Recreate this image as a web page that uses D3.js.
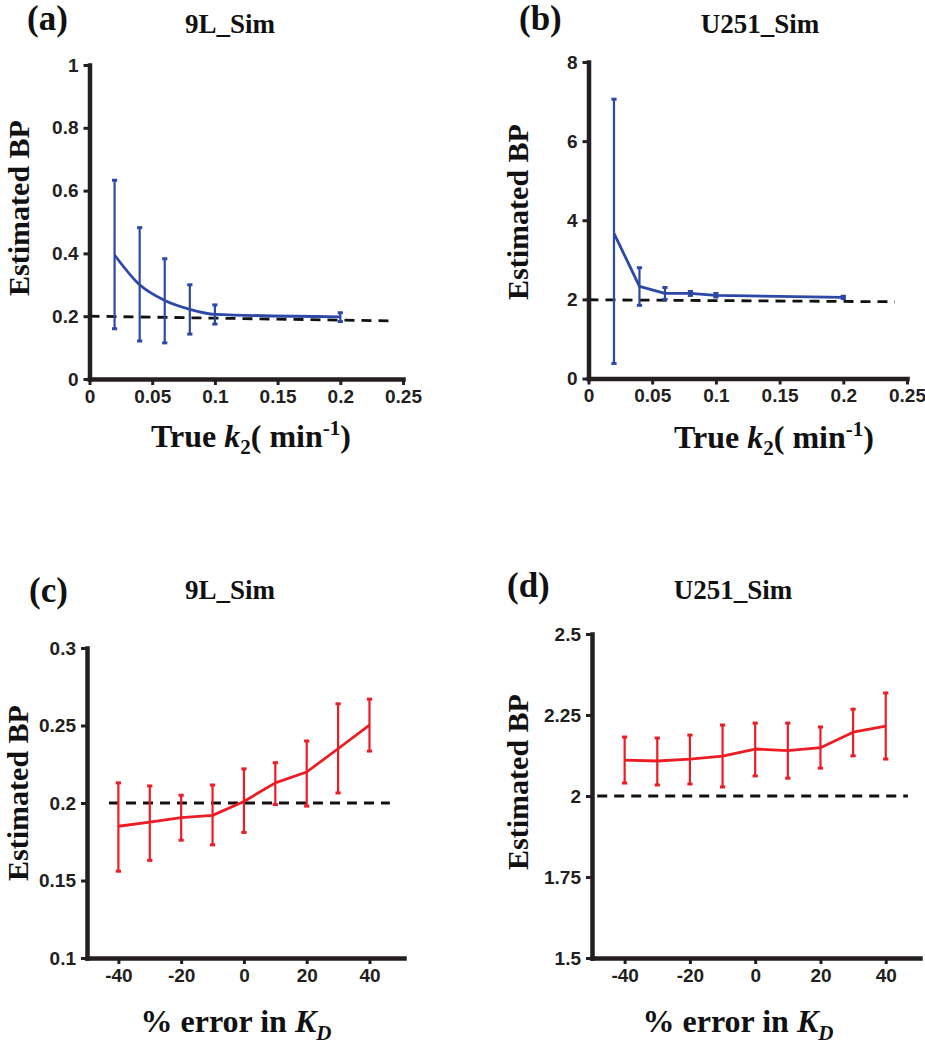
<!DOCTYPE html>
<html>
<head>
<meta charset="utf-8">
<script src="https://cdn.jsdelivr.net/npm/d3@7"></script>
<style>
  html, body { margin: 0; padding: 0; background: #fff; }
  svg { display: block; }
  .tick text { font-family: "Liberation Sans", Arial, sans-serif; font-weight: bold; font-size: 19px; fill: #231f20; }
  .serif { font-family: "Liberation Serif", "Times New Roman", serif; font-weight: bold; fill: #111; }
</style>
</head>
<body>
<svg id="chart" width="925" height="1050"></svg>
<script>
// ---------- DATA ----------
// Panels (a) and (b): true k2 (min^-1)
const k2Values = [0.02, 0.04, 0.06, 0.08, 0.1, 0.2];
const a_mean  = [0.395, 0.300, 0.250, 0.222, 0.206, 0.198];
const a_upper = [0.633, 0.482, 0.383, 0.300, 0.236, 0.211];
const a_lower = [0.160, 0.121, 0.115, 0.143, 0.175, 0.183];

const b_mean  = [3.67, 2.33, 2.15, 2.15, 2.10, 2.05];
const b_upper = [7.06, 2.80, 2.30, 2.20, 2.15, 2.08];
const b_lower = [0.38, 1.85, 2.00, 2.10, 2.06, 2.02];

// Panels (c) and (d): % error in KD
const kdError = [-40, -30, -20, -10, 0, 10, 20, 30, 40];
const c_mean  = [0.185, 0.1877, 0.1905, 0.192, 0.201, 0.213, 0.220, 0.235, 0.2503];
const c_upper = [0.213, 0.211, 0.205, 0.2116, 0.222, 0.226, 0.240, 0.264, 0.267];
const c_lower = [0.156, 0.163, 0.176, 0.173, 0.181, 0.199, 0.198, 0.2065, 0.2335];

const d_mean  = [2.111, 2.108, 2.114, 2.123, 2.145, 2.140, 2.149, 2.197, 2.216];
const d_upper = [2.182, 2.179, 2.188, 2.219, 2.225, 2.225, 2.213, 2.268, 2.318];
const d_lower = [2.040, 2.034, 2.037, 2.028, 2.062, 2.055, 2.086, 2.124, 2.114];

// Reference (true BP) dashed lines: [x0, y0, x1, y1]
const a_ref = [0.0, 0.200, 0.242, 0.185];
const b_ref = [0.0, 1.99, 0.2405, 1.94];
const c_ref = [-43, 0.2, 46.5, 0.2];
const d_ref = [-48.4, 2.0, 46.8, 2.0];

// Tick values and labels
const a_xTicks = [0, 0.05, 0.1, 0.15, 0.2, 0.25];
const a_xLabels = ["0", "0.05", "0.1", "0.15", "0.2", "0.25"];
const a_yTicks = [0, 0.2, 0.4, 0.6, 0.8, 1];
const a_yLabels = ["0", "0.2", "0.4", "0.6", "0.8", "1"];
const b_yTicks = [0, 2, 4, 6, 8];
const b_yLabels = ["0", "2", "4", "6", "8"];
const c_xTicks = [-40, -20, 0, 20, 40];
const c_xLabels = ["-40", "-20", "0", "20", "40"];
const c_yTicks = [0.1, 0.15, 0.2, 0.25, 0.3];
const c_yLabels = ["0.1", "0.15", "0.2", "0.25", "0.3"];
const d_yTicks = [1.5, 1.75, 2, 2.25, 2.5];
const d_yLabels = ["1.5", "1.75", "2", "2.25", "2.5"];

const panelLetters = ["(a)", "(b)", "(c)", "(d)"];
const panelTitles = ["9L_Sim", "U251_Sim", "9L_Sim", "U251_Sim"];

const BLUE = "#2d48a6";
const RED = "#ec1c24";
const INK = "#231f20";

// ---------- DRAW ----------
const svg = d3.select("#chart");

function panel(cfg) {
  const g = svg.append("g");
  const x = d3.scaleLinear().domain(cfg.xDomain).range(cfg.xRange);
  const y = d3.scaleLinear().domain(cfg.yDomain).range(cfg.yRange);

  // reference dashed line
  g.append("line")
    .attr("x1", x(cfg.ref[0])).attr("y1", y(cfg.ref[1]))
    .attr("x2", x(cfg.ref[2])).attr("y2", y(cfg.ref[3]))
    .attr("stroke", "#111").attr("stroke-width", 2.8)
    .attr("stroke-dasharray", "10,7");

  // axes
  const xAxis = d3.axisBottom(x).tickValues(cfg.xTicks)
    .tickFormat((d, i) => cfg.xLabels[i]).tickSize(6).tickSizeOuter(0).tickPadding(4.5);
  const yAxis = d3.axisLeft(y).tickValues(cfg.yTicks)
    .tickFormat((d, i) => cfg.yLabels[i]).tickSize(6).tickSizeOuter(0).tickPadding(5);

  const gx = g.append("g").attr("transform", `translate(0,${cfg.yRange[0]})`).call(xAxis);
  const gy = g.append("g").attr("transform", `translate(${cfg.xRange[0]},0)`).call(yAxis);
  [gx, gy].forEach(a => {
    a.select(".domain").attr("stroke", INK).attr("stroke-width", 4.5).attr("stroke-linecap", "square");
    a.selectAll(".tick line").attr("stroke", INK).attr("stroke-width", 3);
  });

  // error bars
  const capW = 2.6;
  const eb = g.append("g").attr("stroke", cfg.color).attr("stroke-width", 2.2);
  cfg.xs.forEach((xv, i) => {
    const cx = x(xv);
    eb.append("line").attr("x1", cx).attr("x2", cx).attr("y1", y(cfg.lower[i])).attr("y2", y(cfg.upper[i]));
    eb.append("line").attr("x1", cx - capW).attr("x2", cx + capW).attr("y1", y(cfg.lower[i])).attr("y2", y(cfg.lower[i])).attr("stroke-width", 3);
    eb.append("line").attr("x1", cx - capW).attr("x2", cx + capW).attr("y1", y(cfg.upper[i])).attr("y2", y(cfg.upper[i])).attr("stroke-width", 3);
  });

  // mean line
  const line = d3.line().x((d, i) => x(cfg.xs[i])).y(d => y(d)).curve(cfg.curve);
  g.append("path").datum(cfg.mean)
    .attr("d", line).attr("fill", "none")
    .attr("stroke", cfg.color).attr("stroke-width", 2.8).attr("stroke-linejoin", "round");

  // panel letter & title
  g.append("text").attr("class", "serif").attr("x", cfg.letterPos[0]).attr("y", cfg.letterPos[1])
    .attr("font-size", 35).text(cfg.letter);
  g.append("text").attr("class", "serif").attr("x", cfg.titlePos[0]).attr("y", cfg.titlePos[1])
    .attr("text-anchor", "middle").attr("font-size", 27).text(cfg.title);

  // y label
  g.append("text").attr("class", "serif")
    .attr("transform", `translate(${cfg.yLabelPos[0]},${cfg.yLabelPos[1]}) rotate(-90)`)
    .attr("text-anchor", "middle").attr("font-size", 30).text("Estimated BP");

  // x label
  const xl = g.append("text").attr("class", "serif")
    .attr("x", cfg.xLabelPos[0]).attr("y", cfg.xLabelPos[1])
    .attr("text-anchor", "middle").attr("font-size", 32);
  cfg.xLabel(xl);
}

function k2Label(t) {
  t.append("tspan").text("True ");
  t.append("tspan").attr("font-style", "italic").text("k");
  t.append("tspan").attr("font-size", 21).attr("dy", 7).text("2");
  t.append("tspan").attr("dy", -7).text("( min");
  t.append("tspan").attr("font-size", 21).attr("dy", -12).text("-1");
  t.append("tspan").attr("dy", 12).text(")");
}
function kdLabel(t) {
  t.append("tspan").text("% error in ");
  t.append("tspan").attr("font-style", "italic").text("K");
  t.append("tspan").attr("font-style", "italic").attr("font-size", 21).attr("dy", 8).text("D");
}

panel({
  xDomain: [0, 0.25], xRange: [89.5, 403], yDomain: [0, 1], yRange: [379, 65],
  xTicks: a_xTicks, xLabels: a_xLabels, yTicks: a_yTicks, yLabels: a_yLabels,
  xs: k2Values, mean: a_mean, upper: a_upper, lower: a_lower, ref: a_ref,
  color: BLUE, curve: d3.curveMonotoneX,
  letter: panelLetters[0], letterPos: [27, 30], title: panelTitles[0], titlePos: [230, 33],
  yLabelPos: [29, 208], xLabelPos: [251, 447], xLabel: k2Label
});
panel({
  xDomain: [0, 0.25], xRange: [588.5, 907], yDomain: [0, 8], yRange: [378.5, 62],
  xTicks: a_xTicks, xLabels: a_xLabels, yTicks: b_yTicks, yLabels: b_yLabels,
  xs: k2Values, mean: b_mean, upper: b_upper, lower: b_lower, ref: b_ref,
  color: BLUE, curve: d3.curveLinear,
  letter: panelLetters[1], letterPos: [519, 30], title: panelTitles[1], titlePos: [760, 33],
  yLabelPos: [528, 212], xLabelPos: [774, 448], xLabel: k2Label
});
panel({
  xDomain: [-50, 51], xRange: [87, 404], yDomain: [0.1, 0.3], yRange: [958, 648],
  xTicks: c_xTicks, xLabels: c_xLabels, yTicks: c_yTicks, yLabels: c_yLabels,
  xs: kdError, mean: c_mean, upper: c_upper, lower: c_lower, ref: c_ref,
  color: RED, curve: d3.curveLinear,
  letter: panelLetters[2], letterPos: [29, 602], title: panelTitles[2], titlePos: [230, 599],
  yLabelPos: [28, 793], xLabelPos: [236, 1032], xLabel: kdLabel
});
panel({
  xDomain: [-50, 50.5], xRange: [592, 920], yDomain: [1.5, 2.5], yRange: [958, 634],
  xTicks: c_xTicks, xLabels: c_xLabels, yTicks: d_yTicks, yLabels: d_yLabels,
  xs: kdError, mean: d_mean, upper: d_upper, lower: d_lower, ref: d_ref,
  color: RED, curve: d3.curveLinear,
  letter: panelLetters[3], letterPos: [507, 597], title: panelTitles[3], titlePos: [733, 599],
  yLabelPos: [528, 782], xLabelPos: [738, 1032], xLabel: kdLabel
});
</script>
</body>
</html>
